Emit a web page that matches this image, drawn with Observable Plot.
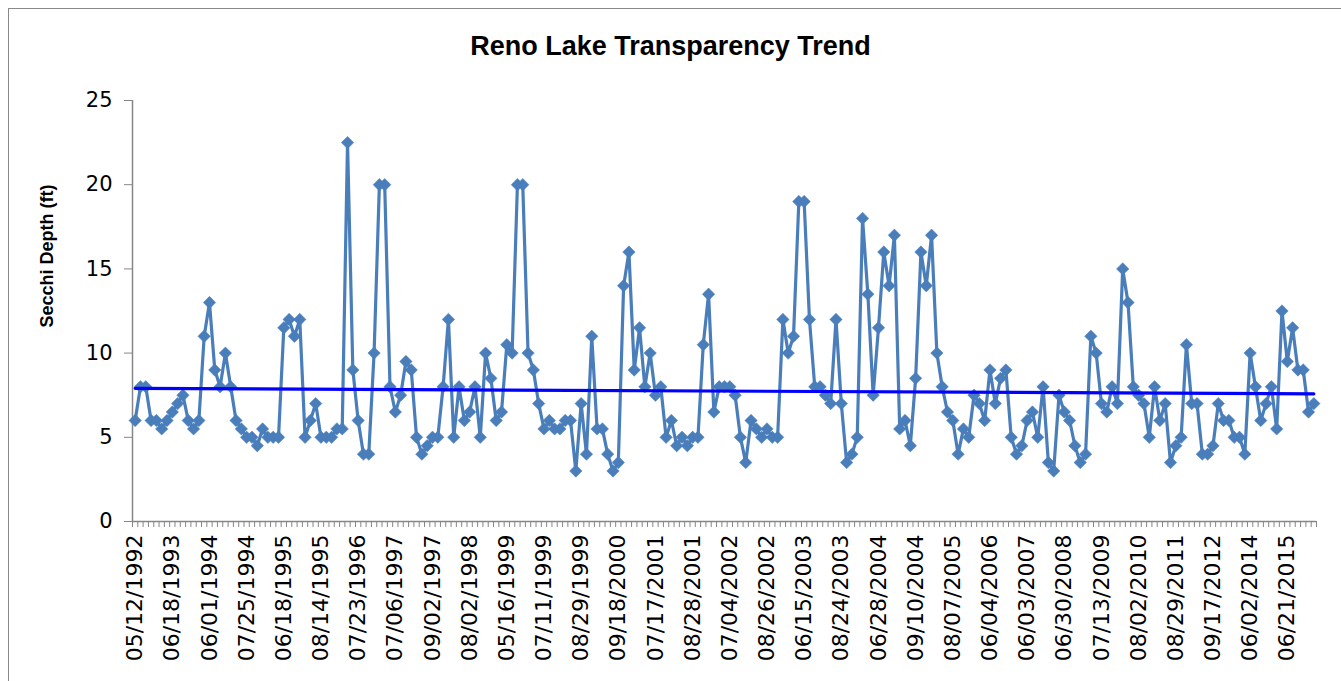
<!DOCTYPE html>
<html>
<head>
<meta charset="utf-8">
<script src="https://cdn.jsdelivr.net/npm/d3@7"></script>
<script src="https://cdn.jsdelivr.net/npm/@observablehq/plot@0.6"></script>
<style>
  html, body { margin: 0; padding: 0; background: #fff; overflow: hidden; }
  #wrap { position: relative; width: 1341px; height: 681px; overflow: hidden; }
  #frame { position: absolute; left: 8px; top: 8px; width: 1400px; height: 700px; border: 1px solid #898989; box-sizing: border-box; }
  #title { position: absolute; left: 0; width: 1341px; top: 31px; text-align: center; font-family: "Liberation Sans", Arial, sans-serif; font-weight: bold; font-size: 27px; color: #000; }
  #ytitle { position: absolute; left: 47px; top: 256px; transform: translate(-50%, -50%) rotate(-90deg); white-space: nowrap; font-family: "Liberation Sans", Arial, sans-serif; font-weight: bold; font-size: 18px; color: #000; }
  #chart { position: absolute; left: 0; top: 0; }
</style>
</head>
<body>
<div id="wrap">
  <div id="frame"></div>
  <div id="chart"></div>
  <div id="title">Reno Lake Transparency Trend</div>
  <div id="ytitle">Secchi Depth (ft)</div>
</div>
<script>
// Tick labels shown every 7th sampling date
const dateLabels = [
  "05/12/1992","06/18/1993","06/01/1994","07/25/1994","06/18/1995","08/14/1995",
  "07/23/1996","07/06/1997","09/02/1997","08/02/1998","05/16/1999","07/11/1999",
  "08/29/1999","09/18/2000","07/17/2001","08/28/2001","07/04/2002","08/26/2002",
  "06/15/2003","08/24/2003","06/28/2004","09/10/2004","08/07/2005","06/04/2006",
  "06/03/2007","06/30/2008","07/13/2009","08/02/2010","08/29/2011","09/17/2012",
  "06/02/2014","06/21/2015"
];
const labelEvery = 7;

// Secchi depth (ft) for each sampling date, in order
const depth = [
  6, 8, 8, 6, 6, 5.5, 6, 6.5, 7, 7.5, 6, 5.5, 6, 11, 13, 9, 8, 10, 8, 6,
  5.5, 5, 5, 4.5, 5.5, 5, 5, 5, 11.5, 12, 11, 12, 5, 6, 7, 5, 5, 5, 5.5, 5.5,
  22.5,
  9, 6, 4, 4, 10, 20, 20, 8, 6.5, 7.5, 9.5, 9, 5, 4, 4.5, 5, 5, 8, 12, 5,
  8, 6, 6.5, 8, 5, 10, 8.5, 6, 6.5, 10.5, 10, 20, 20, 10, 9, 7, 5.5, 6, 5.5,
  5.5, 6, 6, 3, 7, 4, 11, 5.5, 5.5,
  4, 3, 3.5, 14, 16, 9, 11.5, 8, 10, 7.5, 8, 5, 6, 4.5, 5, 4.5, 5, 5, 10.5, 13.5,
  6.5, 8, 8, 8, 7.5, 5, 3.5, 6, 5.5, 5, 5.5, 5, 5, 12, 10, 11, 19, 19, 12, 8,
  8, 7.5, 7, 12,
  7, 3.5, 4, 5, 18, 13.5, 7.5, 11.5, 16, 14, 17, 5.5, 6, 4.5, 8.5, 16, 14, 17, 10, 8,
  6.5, 6, 4, 5.5, 5, 7.5, 7, 6, 9, 7, 8.5, 9, 5, 4, 4.5, 6, 6.5, 5, 8, 3.5,
  3, 7.5, 6.5, 6, 4.5,
  3.5, 4, 11, 10, 7, 6.5, 8, 7, 15, 13, 8, 7.5, 7, 5, 8, 6, 7, 3.5, 4.5, 5,
  10.5, 7, 7, 4, 4, 4.5, 7, 6, 6, 5, 5, 4, 10, 8, 6, 7, 8, 5.5, 12.5, 9.5,
  11.5, 9, 9, 6.5, 7
];
const yTicks = [0, 5, 10, 15, 20, 25];

const N = depth.length;
const data = depth.map((v, i) => ({i, v}));

// Linear trendline (least squares), as Excel's trendline
const mx = d3.mean(data, d => d.i), my = d3.mean(data, d => d.v);
const slope = d3.sum(data, d => (d.i - mx) * (d.v - my)) / d3.sum(data, d => (d.i - mx) ** 2);
const icpt = my - slope * mx;
const trend = [0, N - 1].map(i => ({i, v: icpt + slope * i}));

const boundaries = d3.range(N + 1).map(k => k - 0.5);
const labelIdx = dateLabels.map((_, k) => k * labelEvery);

const axisGray = "#868686";
const blue = "#4A7EBB";

const chart = Plot.plot({
  width: 1341,
  height: 681,
  marginLeft: 132,
  marginRight: 25,
  marginTop: 100,
  marginBottom: 160,
  style: {fontFamily: "'DejaVu Sans', sans-serif", background: "transparent", overflow: "visible"},
  x: {type: "linear", domain: [-0.5, N - 0.5]},
  y: {domain: [0, 25]},
  marks: [
    Plot.axisY({ticks: yTicks, tickSize: 8, tickPadding: 12, fontSize: 21, stroke: axisGray, color: "#000", label: null, tickFormat: d => d}),
    Plot.axisX({ticks: boundaries, tickSize: 6, tickFormat: () => "", stroke: axisGray, label: null}),
    Plot.axisX({ticks: labelIdx, tickSize: 0, tickPadding: 13, tickRotate: -90, fontSize: 22, color: "#000",
                tickFormat: i => dateLabels[Math.round(i / labelEvery)], label: null}),
    Plot.ruleX([-0.5], {stroke: axisGray, strokeWidth: 1.5}),
    Plot.ruleY([0], {stroke: axisGray, strokeWidth: 1.5}),
    Plot.line(data, {x: "i", y: "v", stroke: blue, strokeWidth: 3.2}),
    Plot.dot(data, {x: "i", y: "v", symbol: "diamond2", r: 5.6, fill: blue, stroke: blue, strokeWidth: 0.5}),
    Plot.line(trend, {x: "i", y: "v", stroke: "#0000FF", strokeWidth: 3.2})
  ]
});
document.getElementById("chart").appendChild(chart);
</script>
</body>
</html>
